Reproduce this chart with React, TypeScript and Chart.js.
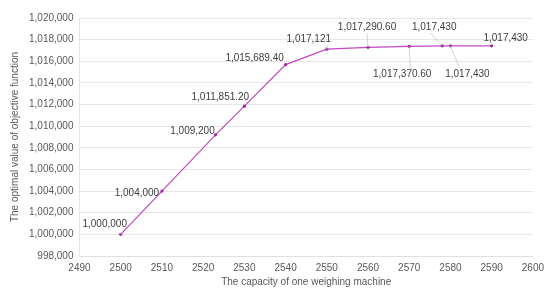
import React, { useEffect, useRef } from "react";
import { Chart, registerables } from "chart.js";

Chart.register(...registerables);

const capacities = [2500, 2510, 2523, 2530, 2540, 2550, 2560, 2570, 2578, 2580, 2590];
const objectiveValues = [1000000, 1004000, 1009200, 1011851.2, 1015689.4, 1017121, 1017290.6, 1017370.6, 1017430, 1017430, 1017430];
const valueLabels = ["1,000,000", "1,004,000", "1,009,200", "1,011,851.20", "1,015,689.40", "1,017,121", "1,017,290.60", "1,017,370.60", "1,017,430", "1,017,430", "1,017,430"];

// label offsets (px) relative to point: [dx center, dy center, leader]
const labelOffsets: [number, number, boolean][] = [
  [-16, -10, true],
  [-25, 2, false],
  [-23, -4, false],
  [-24, -9, false],
  [-31, -6, false],
  [-18, -10, true],
  [-1, -20, true],
  [-7, 28, true],
  [-8, -19, true],
  [17, 28, true],
  [14, -8, false],
];

const FONT = "'Liberation Sans', Arial, sans-serif";

const labelPlugin = {
  id: "valueLabels",
  afterDatasetsDraw(chart: any) {
    const ctx = chart.ctx;
    const meta = chart.getDatasetMeta(0);
    ctx.save();
    ctx.font = "10px " + FONT;
    ctx.textAlign = "center";
    ctx.textBaseline = "middle";
    meta.data.forEach((pt: any, i: number) => {
      const [dx, dy, leader] = labelOffsets[i];
      const lx = pt.x + dx;
      const ly = pt.y + dy;
      if (leader) {
        ctx.strokeStyle = "#c8c8c8";
        ctx.lineWidth = 0.8;
        ctx.beginPath();
        const sy = dy < 0 ? ly + 6 : ly - 6;
        const w = ctx.measureText(valueLabels[i]).width;
        let sx = lx;
        if (i === 0) sx = lx + w / 2 - 4;
        if (i === 5) sx = lx + w / 2 - 4;
        if (i === 7) sx = lx + 8;
        if (i === 8) sx = lx - 4;
        if (i === 9) sx = lx - 8;
        ctx.moveTo(sx, sy);
        ctx.lineTo(pt.x, pt.y);
        ctx.stroke();
      }
      ctx.fillStyle = "#404040";
      ctx.fillText(valueLabels[i], lx, ly);
    });
    ctx.restore();
  },
};

export default function App() {
  const ref = useRef<HTMLCanvasElement>(null);
  useEffect(() => {
    if (!ref.current) return;
    const chart = new Chart(ref.current, {
      type: "line",
      data: {
        datasets: [
          {
            data: capacities.map((c, i) => ({ x: c, y: objectiveValues[i] })),
            borderColor: "#c04ac0",
            backgroundColor: "#9e2a9e",
            borderWidth: 1.2,
            pointRadius: 1.6,
            pointBorderWidth: 0,
            tension: 0,
          },
        ],
      },
      options: {
        animation: false,
        responsive: true,
        maintainAspectRatio: false,
        layout: { padding: { top: 18, right: 6, left: 9, bottom: 4 } },
        plugins: { legend: { display: false }, tooltip: { enabled: false } },
        scales: {
          x: {
            type: "linear",
            min: 2490,
            max: 2600,
            ticks: {
              stepSize: 10,
              color: "#595959",
              font: { size: 10, family: FONT },
              padding: 6,
              callback: (v: any) => String(v),
            },
            grid: { display: false, drawTicks: false, tickLength: 0 },
            border: { display: true, color: "#e0e0e0" },
            title: {
              display: true,
              text: "The capacity of one weighing machine",
              color: "#595959",
              font: { size: 10, family: FONT },
              padding: { top: -4, bottom: 0 },
            },
          },
          y: {
            min: 998000,
            max: 1020000,
            ticks: {
              stepSize: 2000,
              color: "#595959",
              font: { size: 10, family: FONT },
              padding: 6,
              callback: (v: any) => Number(v).toLocaleString("en-US"),
            },
            grid: { color: "#e6e6e6", drawTicks: false },
            border: { display: true, color: "#e6e6e6" },
            title: {
              display: true,
              text: "The optimal value of objective function",
              color: "#595959",
              font: { size: 10, family: FONT },
              padding: { top: 0, bottom: 2 },
            },
          },
        },
      },
      plugins: [labelPlugin],
    });
    return () => chart.destroy();
  }, []);
  return (
    <div style={{ position: "absolute", left: 0, top: 0, width: 550, height: 292 }}>
      <canvas ref={ref} />
    </div>
  );
}
